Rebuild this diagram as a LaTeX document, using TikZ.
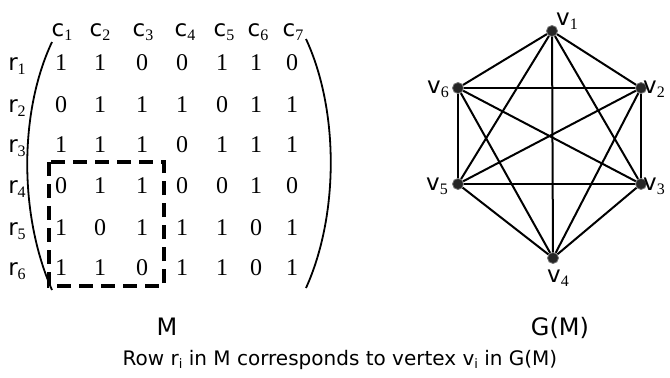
\documentclass[tikz,border=0pt]{standalone}
\usepackage{fontspec}
\setmainfont{Liberation Serif}
\newfontfamily\dvs{DejaVu Sans}
% letter with a small serif index, e.g. r_1, c_3, v_6
\newcommand{\idx}[2]{{\dvs\fontsize{23bp}{25bp}\selectfont #1}\raisebox{-4bp}{\fontsize{16bp}{17bp}\selectfont #2}}
% sans letter with a small sans index (caption)
\newcommand{\sidx}[2]{#1\raisebox{-3.5bp}{\fontsize{13bp}{14bp}\selectfont #2}}
\tikzset{
  entry/.style={font=\fontsize{24bp}{26bp}\selectfont, anchor=base, inner sep=0pt},
  lab/.style={anchor=base, inner sep=0pt},
  vert/.style={circle, fill=black!85, draw=black!55, line width=0.8bp, inner sep=0pt, minimum size=11bp},
  edge/.style={line width=2bp},
  paren/.style={line width=1.8bp},
  block/.style={line width=3.2bp, dash pattern=on 14bp off 8bp},
  title/.style={font=\dvs\fontsize{24bp}{26bp}\selectfont, anchor=base, inner sep=0pt}
}
\begin{document}
\begin{tikzpicture}[x=1bp, y=-1bp]
\useasboundingbox (0,0) rectangle (670,377);

% column headings
\foreach \n/\x in {1/62,2/100,3/143,4/185,5/224,6/258,7/293}
  \node[lab] (c\n) at (\x,36) {\idx{c}{\n}};
% row headings
\foreach \n/\y in {1/70,2/112,3/152,4/193,5/235,6/275}
  \node[lab] (r\n) at (17,\y) {\idx{r}{\n}};

% matrix entries
\foreach \row/\y/\vals in {1/70/{1,1,0,0,1,1,0},2/112/{0,1,1,1,0,1,1},3/152/{1,1,1,0,1,1,1},
                           4/193/{0,1,1,0,0,1,0},5/235/{1,0,1,1,1,0,1},6/275/{1,1,0,1,1,0,1}}{
  \foreach \v [count=\col] in \vals {
    \pgfmathsetmacro{\xx}{{61,100,142,182,222,256,292}[\col-1]}
    \node[entry] (m\row\col) at (\xx,\y) {\v};
  }
}

% brackets
\coordinate (lt) at (52,42);  \coordinate (lb) at (52,290);
\coordinate (rt) at (306,39); \coordinate (rb) at (306,288);
\draw[paren] (lt) .. controls (19,112) and (19,215) .. (lb);
\draw[paren] (rt) .. controls (339,110) and (339,215) .. (rb);

% highlighted 3x3 block
\draw[block] (49,162) rectangle (164,286);

% vertices of G(M)
\node[vert] (v1) at (552,31) {};
\node[vert] (v2) at (641,88) {};
\node[vert] (v3) at (641,184) {};
\node[vert] (v4) at (553,258) {};
\node[vert] (v5) at (458,184) {};
\node[vert] (v6) at (458,88) {};

% complete graph on six vertices
\foreach \a/\b in {1/2,1/3,1/4,1/5,1/6,2/3,2/4,2/5,2/6,3/4,3/5,3/6,4/5,4/6,5/6}
  \draw[edge] (v\a) -- (v\b);

% vertex labels
\node[lab, anchor=base west] (l1) at (556,25) {\idx{v}{1}};
\node[lab, anchor=base west] (l2) at (643,93) {\idx{v}{2}};
\node[lab, anchor=base west] (l3) at (643,190) {\idx{v}{3}};
\node[lab, anchor=base west] (l4) at (547,282) {\idx{v}{4}};
\node[lab, anchor=base east] (l5) at (448,190) {\idx{v}{5}};
\node[lab, anchor=base east] (l6) at (449,93) {\idx{v}{6}};

% titles and caption
\node[title] (tM) at (167,335) {M};
\node[title] (tG) at (560,335) {G(M)};
\node[anchor=base, inner sep=0pt, font=\dvs\fontsize{20bp}{22bp}\selectfont] (cap) at (340,365)
  {Row \sidx{r}{i} in M corresponds to vertex \sidx{v}{i} in G(M)};
\end{tikzpicture}
\end{document}
